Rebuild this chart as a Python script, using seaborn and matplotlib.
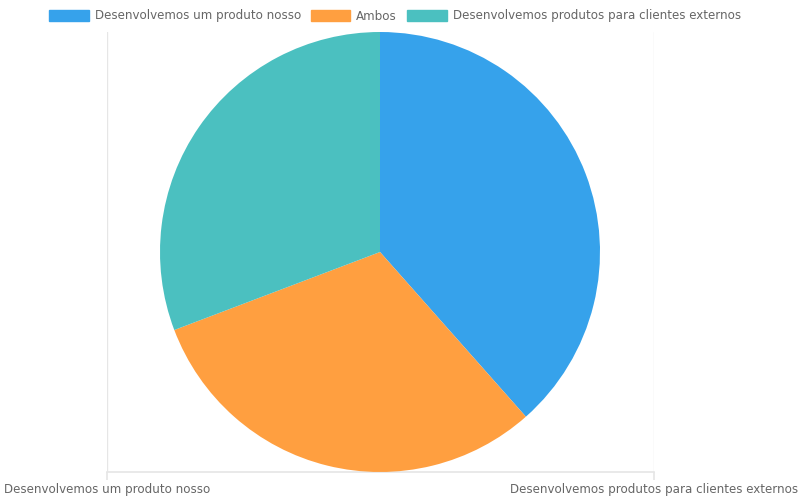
import matplotlib
matplotlib.use("Agg")
import matplotlib.pyplot as plt
import matplotlib.patches as mpatches
import seaborn as sns

# data
labels = ["Desenvolvemos um produto nosso", "Ambos", "Desenvolvemos produtos para clientes externos"]
values = [25, 20, 20]
colors = ["#36A2EB", "#FF9F40", "#4BC0C0"]
axis_labels = ["Desenvolvemos um produto nosso", "Desenvolvemos produtos para clientes externos"]

sns.set_theme(style="white")
plt.rcParams['font.family'] = ['DejaVu Sans']

fig = plt.figure(figsize=(8, 5), dpi=100)

# leftover category axis behind the pie
grid_ax = fig.add_axes([107/800, 28/500, 547/800, 440/500])
grid_ax.set_xlim(0, 1)
grid_ax.set_ylim(0, 1)
grid_ax.set_xticks([0, 1])
grid_ax.set_xticklabels(axis_labels, fontsize=8.6, color="#666666")
grid_ax.set_yticks([])
for x in [0, 1]:
    grid_ax.axvline(x, color="#e6e6e6", lw=1)
for s in ["top", "left", "right"]:
    grid_ax.spines[s].set_visible(False)
grid_ax.spines["bottom"].set_color("#e6e6e6")
grid_ax.tick_params(axis="x", length=6, color="#e6e6e6", pad=2, bottom=True)

# pie
pie_ax = fig.add_axes([160/800, 28/500, 440/800, 440/500])
pie_ax.pie(values, colors=colors, startangle=90, counterclock=False,
           radius=1, wedgeprops=dict(linewidth=0))
pie_ax.set_xlim(-1, 1)
pie_ax.set_ylim(-1, 1)
pie_ax.set_aspect("equal")
pie_ax.axis("off")

# legend at the top
handles = [mpatches.Patch(color=c, label=l) for c, l in zip(colors, labels)]
fig.legend(handles=handles, loc="center", bbox_to_anchor=(395/800, 1 - 16/500), ncol=3,
           frameon=False, fontsize=8.6, labelcolor="#666666", handlelength=3.3,
           handleheight=1.0, handletextpad=0.5, columnspacing=0.85, borderaxespad=0)

fig.savefig("out.png", dpi=100)
